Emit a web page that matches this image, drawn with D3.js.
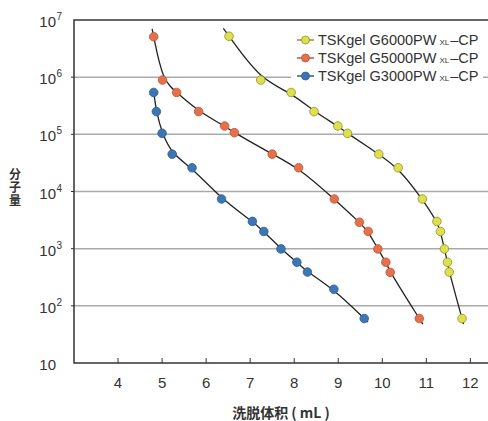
<!DOCTYPE html>
<html>
<head>
<meta charset="utf-8">
<script src="https://cdn.jsdelivr.net/npm/d3@7"></script>
<style>
  body { margin: 0; background: #fff; }
  svg text { font-family: "Liberation Sans", Arial, sans-serif; fill: #333; }
  .cjk { font-family: "Noto Sans CJK SC", sans-serif; font-weight: bold; }
</style>
</head>
<body>
<svg id="chart" width="488" height="421"></svg>
<script>
// elution volume (mL) and molecular weight
var g6000Vol = [6.52, 7.24, 7.93, 8.45, 8.99, 9.21, 9.92, 10.36, 10.91, 11.24, 11.32, 11.41, 11.48, 11.52, 11.81]
var g6000Mw = [5.2e6, 8.9e5, 5.4e5, 2.5e5, 1.4e5, 1.04e5, 4.5e4, 2.6e4, 7.4e3, 3.0e3, 2.0e3, 990, 580, 390, 60]

var g5000Vol = [4.81, 5.01, 5.33, 5.83, 6.42, 6.64, 7.50, 8.10, 8.91, 9.48, 9.68, 9.90, 10.08, 10.18, 10.84]
var g5000Mw = [5.1e6, 8.9e5, 5.4e5, 2.5e5, 1.4e5, 1.07e5, 4.5e4, 2.6e4, 7.4e3, 2.9e3, 2.0e3, 990, 580, 385, 60]

var g3000Vol = [4.81, 4.87, 5.00, 5.23, 5.68, 6.35, 7.05, 7.31, 7.70, 8.06, 8.30, 8.90, 9.59]
var g3000Mw = [5.4e5, 2.5e5, 1.04e5, 4.5e4, 2.6e4, 7.4e3, 3.0e3, 2.0e3, 990, 580, 390, 195, 60]

var seriesNames = ['G6000', 'G5000', 'G3000']
var xTicks = [4, 5, 6, 7, 8, 9, 10, 11, 12]
var yTicks = [10, 1e2, 1e3, 1e4, 1e5, 1e6, 1e7]
var yExponents = ['', '2', '3', '4', '5', '6', '7']

var series = [
  { name: seriesNames[0], vol: g6000Vol, mw: g6000Mw, fill: '#dfe04e', stroke: '#8f8f2c' },
  { name: seriesNames[1], vol: g5000Vol, mw: g5000Mw, fill: '#e5704a', stroke: '#b8583a' },
  { name: seriesNames[2], vol: g3000Vol, mw: g3000Mw, fill: '#3c77b4', stroke: '#2c5d90' }
]

var svg = d3.select('#chart')
var plotLeft = 74, plotRight = 488, plotTop = 20, plotBottom = 363

var x = d3.scaleLinear().domain([3, 12.4]).range([plotLeft, plotRight])
var y = d3.scaleLog().domain([10, 1e7]).range([plotBottom, plotTop])

// grid lines
svg.append('g').selectAll('line')
  .data(yTicks.slice(1, -1))
  .enter().append('line')
  .attr('x1', plotLeft).attr('x2', plotRight)
  .attr('y1', function (d) { return y(d) }).attr('y2', function (d) { return y(d) })
  .attr('stroke', '#aaa').attr('stroke-width', 1.5)

// frame: left, bottom, top
svg.append('path')
  .attr('d', 'M' + plotRight + ',' + plotTop + 'H' + plotLeft + 'V' + plotBottom + 'H' + plotRight)
  .attr('fill', 'none').attr('stroke', '#333').attr('stroke-width', 1.5)

// x ticks point inward
svg.append('g').selectAll('line')
  .data(xTicks)
  .enter().append('line')
  .attr('x1', function (d) { return x(d) }).attr('x2', function (d) { return x(d) })
  .attr('y1', plotBottom).attr('y2', plotBottom - 5)
  .attr('stroke', '#333').attr('stroke-width', 1)

svg.append('g').selectAll('text')
  .data(xTicks)
  .enter().append('text')
  .attr('x', function (d) { return x(d) })
  .attr('y', 388)
  .attr('text-anchor', 'middle')
  .style('font-size', '15px')
  .text(function (d) { return d })

// y tick labels, 10 with superscript
svg.append('g').selectAll('text')
  .data(yTicks)
  .enter().append('text')
  .attr('x', 56)
  .attr('y', function (d) { return y(d) + 7 })
  .attr('text-anchor', 'end')
  .style('font-size', '15px')
  .text('10')
svg.append('g').selectAll('text')
  .data(yTicks)
  .enter().append('text')
  .attr('x', 56.5)
  .attr('y', function (d) { return y(d) })
  .style('font-size', '10px')
  .text(function (d, i) { return yExponents[i] })

svg.append('g').selectAll('line')
  .data(yTicks.slice(1, -1))
  .enter().append('line')
  .attr('x1', plotLeft - 3).attr('x2', plotLeft)
  .attr('y1', function (d) { return y(d) }).attr('y2', function (d) { return y(d) })
  .attr('stroke', '#333').attr('stroke-width', 1)

// axis titles
svg.append('text')
  .attr('class', 'cjk')
  .attr('x', 281).attr('y', 418)
  .attr('text-anchor', 'middle')
  .style('font-size', '14px')
  .text('洗脱体积 ( mL )')

svg.append('text')
  .attr('class', 'cjk')
  .attr('x', 15).attr('y', 168)
  .style('writing-mode', 'vertical-rl')
  .style('font-size', '12px')
  .style('letter-spacing', '1px')
  .text('分子量')

// curves: smooth line through the points, extended a little at both ends
var line = d3.line()
  .x(function (d) { return x(d[0]) })
  .y(function (d) { return y(d[1]) })
  .curve(d3.curveBasis)

function extend (vol, mw) {
  var pts = vol.map(function (v, i) { return [v, mw[i]] })
  var n = pts.length
  var a = pts[0], b = pts[1]
  var ta = 0.18
  var first = [a[0] + (a[0] - b[0]) * ta, Math.pow(10, Math.log10(a[1]) + (Math.log10(a[1]) - Math.log10(b[1])) * ta)]
  var c = pts[n - 1], e = pts[n - 2]
  var tb = 0.12
  var last = [c[0] + (c[0] - e[0]) * tb, Math.pow(10, Math.log10(c[1]) + (Math.log10(c[1]) - Math.log10(e[1])) * tb)]
  return [first].concat(pts, [last])
}

series.forEach(function (s) {
  svg.append('path')
    .attr('d', line(extend(s.vol, s.mw)))
    .attr('fill', 'none')
    .attr('stroke', '#222')
    .attr('stroke-width', 1.3)
})

series.forEach(function (s) {
  svg.append('g').selectAll('circle')
    .data(s.vol)
    .enter().append('circle')
    .attr('cx', function (d) { return x(d) })
    .attr('cy', function (d, i) { return y(s.mw[i]) })
    .attr('r', 4.3)
    .attr('fill', s.fill)
    .attr('stroke', s.stroke)
    .attr('stroke-width', 0.8)
})

// legend
var legend = svg.append('g')
legend.append('rect')
  .attr('x', 291).attr('y', 29).attr('width', 192).attr('height', 56)
  .attr('fill', '#fff')

var rows = legend.selectAll('g')
  .data(series)
  .enter().append('g')
  .attr('transform', function (d, i) { return 'translate(0,' + (40 + i * 18) + ')' })

rows.append('line')
  .attr('x1', 297).attr('x2', 314)
  .attr('stroke', function (d) { return d.stroke }).attr('stroke-width', 1.5)
rows.append('circle')
  .attr('cx', 305.5).attr('r', 4)
  .attr('fill', function (d) { return d.fill })
  .attr('stroke', function (d) { return d.stroke }).attr('stroke-width', 0.8)

var label = rows.append('text')
  .attr('x', 318).attr('y', 5)
  .style('font-size', '14.5px')
label.append('tspan').text(function (d) { return 'TSKgel ' + d.name + 'PW' })
label.append('tspan').attr('dx', 3).style('font-size', '8px').text('XL')
label.append('tspan').attr('dx', 1).text('–CP')
</script>
</body>
</html>
